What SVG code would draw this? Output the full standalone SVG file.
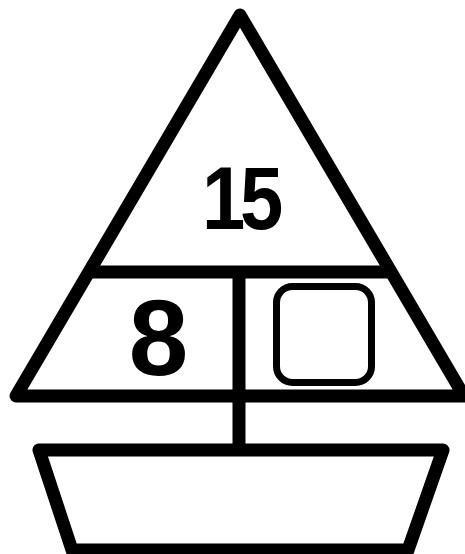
<svg xmlns="http://www.w3.org/2000/svg" width="465" height="554" viewBox="0 0 465 554">
<style>
.ln{fill:none;stroke:#000;stroke-width:13;stroke-linejoin:round;stroke-linecap:butt}
.num{font-family:"Liberation Sans",Arial,sans-serif;font-weight:bold;fill:#000;text-anchor:middle}
</style>
<rect width="465" height="554" fill="#fff"/>
<g id="sail">
<polygon class="ln" points="240,15 464,396 16,396"/>
</g>
<g id="connectors">
<line class="ln" x1="89" y1="272" x2="391" y2="272" stroke-width="14"/>
<line class="ln" x1="239" y1="272" x2="239" y2="450" stroke-width="12"/>
</g>
<g id="top-section">
<text class="num" x="240" y="229" font-size="89" letter-spacing="-6" textLength="76" lengthAdjust="spacingAndGlyphs">15</text>
</g>
<g id="left-section">
<text class="num" x="158.5" y="375" font-size="107">8</text>
</g>
<g id="right-section">
<rect x="276.5" y="286.5" width="95" height="96" rx="16" fill="none" stroke="#000" stroke-width="7"/>
</g>
<g id="boat">
<polygon class="ln" points="39,450 443,450 408,550 72,550" stroke-width="14"/>
</g>
</svg>
